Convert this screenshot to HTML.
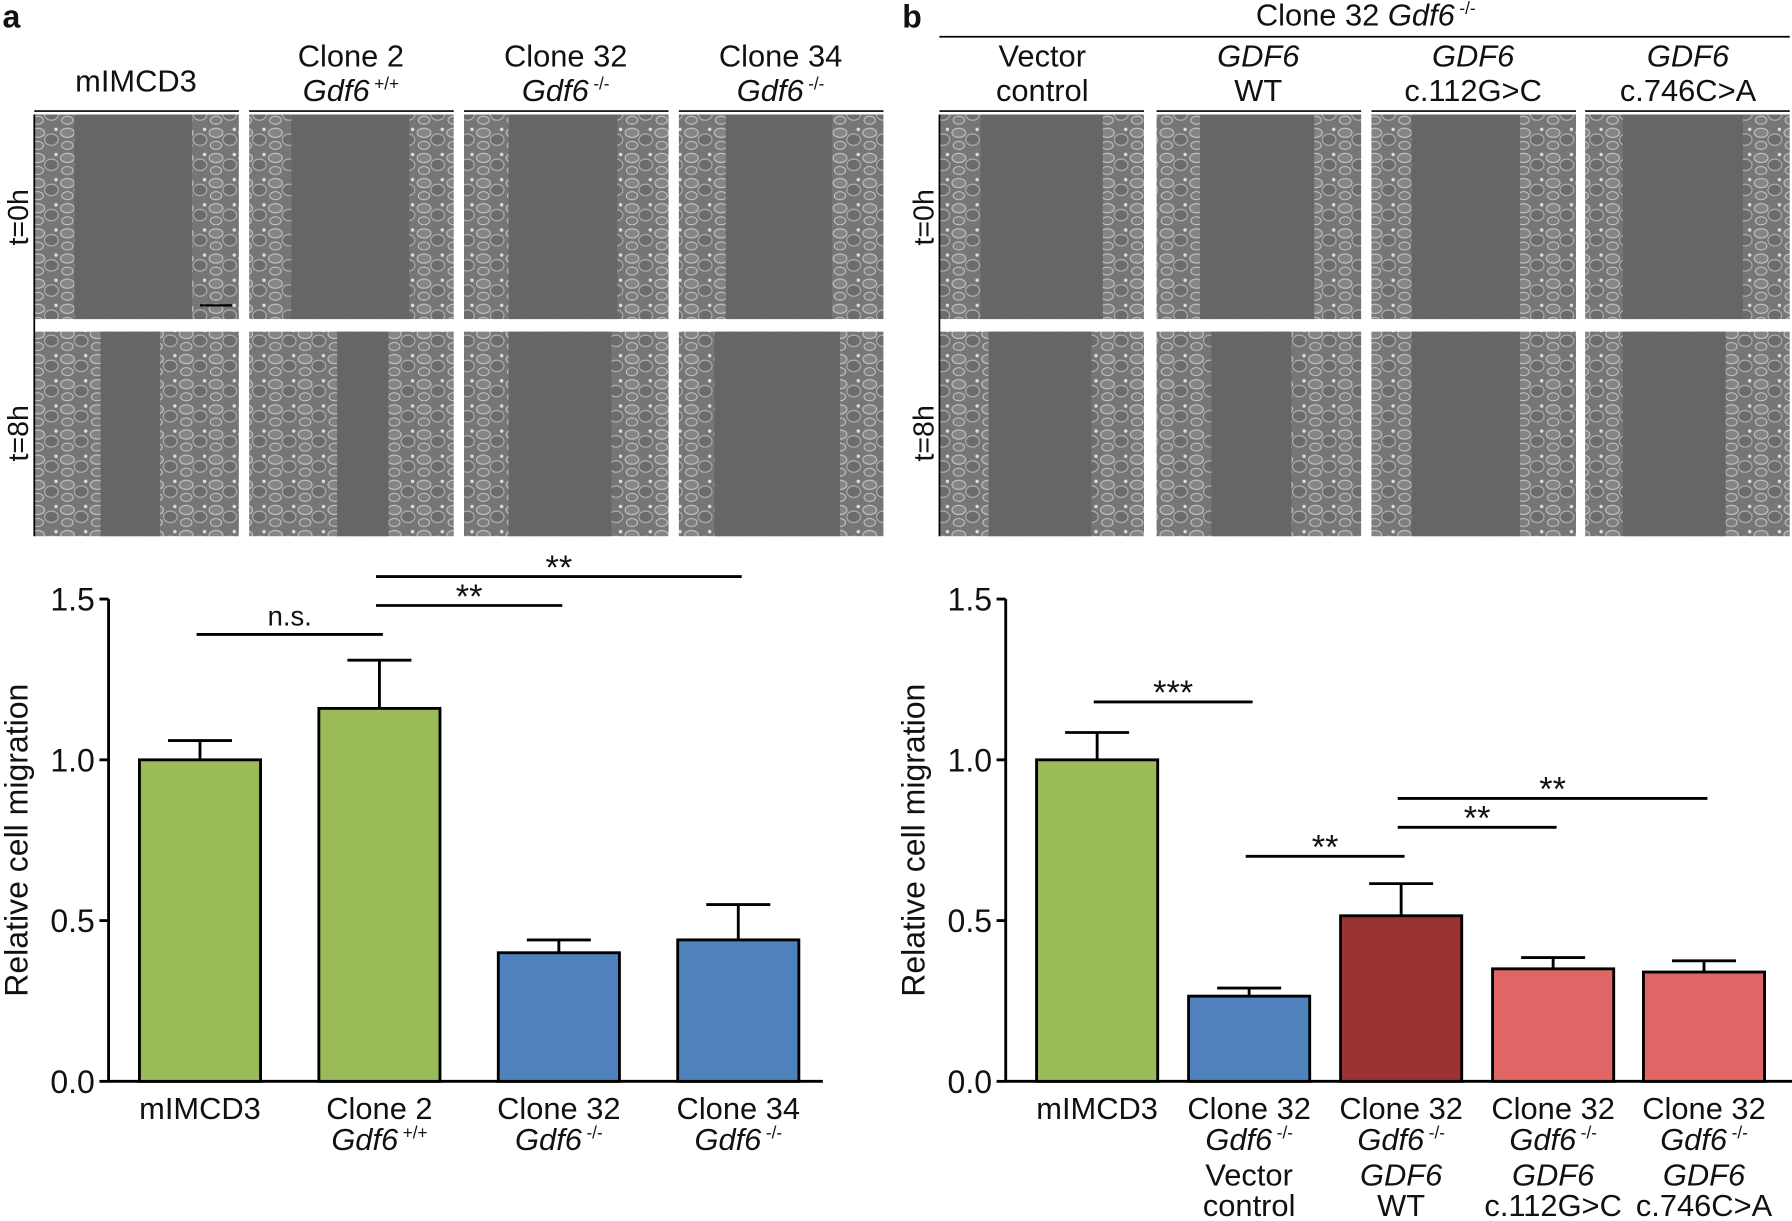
<!DOCTYPE html>
<html><head><meta charset="utf-8"><style>
html,body{margin:0;padding:0;background:#fff}
svg{display:block}
text{font-family:"Liberation Sans",sans-serif;fill:#111}
</style></head><body>
<svg id="fig" width="1792" height="1221" viewBox="0 0 1568 1068" xmlns="http://www.w3.org/2000/svg">
<defs>
<pattern id="cells" width="26" height="22" patternUnits="userSpaceOnUse">
<rect width="26" height="22" fill="#767676"/>
<ellipse cx="7" cy="6" rx="6" ry="4" fill="#858585" stroke="#c4c4c4" stroke-width="1"/>
<ellipse cx="19" cy="12" rx="6" ry="5" fill="#6c6c6c" stroke="#b0b0b0" stroke-width="1"/>
<ellipse cx="7" cy="17" rx="5" ry="3.5" fill="#7e7e7e" stroke="#cdcdcd" stroke-width="0.8"/>
<circle cx="23" cy="3" r="1.5" fill="#dedede"/>
</pattern>
</defs>
<g id="micro"></g>
<g id="chartA"></g>
<g id="chartB"></g>
</svg>
<script>
// ---- chart data ----
const catsA = ["mIMCD3", "Clone 2", "Clone 32", "Clone 34"];
const subA = ["", "Gdf6|+/+", "Gdf6|-/-", "Gdf6|-/-"];
const valsA = [1.0, 1.16, 0.40, 0.44];
const errsA = [1.06, 1.31, 0.44, 0.55];
const colorsA = ["#9bbb59", "#9bbb59", "#4f81bd", "#4f81bd"];
const catsB = ["mIMCD3", "Clone 32", "Clone 32", "Clone 32", "Clone 32"];
const valsB = [1.0, 0.265, 0.515, 0.35, 0.34];
const errsB = [1.085, 0.29, 0.615, 0.385, 0.375];
const colorsB = ["#9bbb59", "#4f81bd", "#9b3234", "#e06666", "#e06666"];
const ticks = [0.0, 0.5, 1.0, 1.5];
const tickLabels = ["0.0", "0.5", "1.0", "1.5"];
const sigA = [[0,1,"n.s.",1.39],[1,2,"**",1.48],[1,3,"**",1.57]];
const sigB = [[0,1,"***",1.18],[1,2,"**",0.70],[2,3,"**",0.79],[2,4,"**",0.88]];

const NS="http://www.w3.org/2000/svg";
function mk(tag, attrs, parent, txt){
  const e=document.createElementNS(NS,tag);
  for(const k in attrs) e.setAttribute(k,attrs[k]);
  if(txt!==undefined) e.textContent=txt;
  parent.appendChild(e); return e;
}
const y0=946, y15=524;
function yS(v){return y0-(v/1.5)*(y0-y15);}

function drawChart(g, axX, axEnd, barL, barW, vals, errs, colors, cats, sig, labelFn, titleX){
  let el=mk('line',{x1:axX,y1:y15,x2:axX,y2:y0,stroke:'#000','stroke-width':2.5},g);
  
  
  el=mk('line',{x1:axX,y1:y0,x2:axEnd,y2:y0,stroke:'#000','stroke-width':2.5},g);
  
  
  ticks.forEach((t,i)=>{
    const y=yS(t);
    let tk=mk('line',{x1:axX-8,y1:y,x2:axX,y2:y,stroke:'#000','stroke-width':2.5},g);
    
    
    let tl=mk('text',{x:axX-12,y:y+10,'text-anchor':'end','font-size':28},g,tickLabels[i]);
    
    
  });
  let tt=mk('text',{x:titleX,y:735,'text-anchor':'middle','font-size':28,transform:`rotate(-90 ${titleX} 735)`},g,'Relative cell migration');
  
  
  const centers=[];
  vals.forEach((v,i)=>{
    const x=barL[i], cx=x+barW/2; centers.push(cx);
    const ye=yS(errs[i]);
    let eb=mk('path',{d:`M${cx},${yS(v)} V${ye} M${cx-28},${ye} H${cx+28}`,stroke:'#000','stroke-width':2.5,fill:'none'},g);
    
    
    let b=mk('rect',{x:x,y:yS(v),width:barW,height:y0-yS(v),fill:colors[i],stroke:'#000','stroke-width':2.5},g);
    
    
    labelFn(g,cx,i);
  });
  sig.forEach(s=>{
    const y=yS(s[3]);
    let l=mk('line',{x1:centers[s[0]]-3,y1:y,x2:centers[s[1]]+3,y2:y,stroke:'#000','stroke-width':2.5},g);
    
    
    const ns=s[2]==='n.s.';
    let t=mk('text',{x:(centers[s[0]]+centers[s[1]])/2,y:ns?y-8:y+2,'text-anchor':'middle','font-size':ns?24:30},g,s[2]);
    
    
  });
}
function gdf(g,cx,y,sup){
  const t=mk('text',{x:cx,y:y,'text-anchor':'middle','font-size':27},g);
  
  
  mk('tspan',{'font-style':'italic'},t,'Gdf6');
  mk('tspan',{'font-size':15,dy:-10,dx:4},t,sup);
  return t;
}
const gA=document.getElementById('chartA');
drawChart(gA,95,720,[122,279,436,593],106,valsA,errsA,colorsA,catsA,sigA,(g,cx,i)=>{
  let t=mk('text',{x:cx,y:979,'text-anchor':'middle','font-size':27},g,catsA[i]);
  
  
  if(subA[i]) gdf(g,cx,1006,subA[i].split('|')[1]);
},24);
const gB=document.getElementById('chartB');
const extraB=[["",""],["Vector","control"],["GDF6","WT"],["GDF6","c.112G>C"],["GDF6","c.746C>A"]];
drawChart(gB,880,1568,[907,1040,1173,1306,1438],106,valsB,errsB,colorsB,catsB,sigB,(g,cx,i)=>{
  let t=mk('text',{x:cx,y:979,'text-anchor':'middle','font-size':27},g,catsB[i]);
  
  
  if(i>0){
    gdf(g,cx,1006,'-/-');
    let a=mk('text',{x:cx,y:1037,'text-anchor':'middle','font-size':27,'font-style':extraB[i][0]==='GDF6'?'italic':'normal'},g,extraB[i][0]);
    
    
    let b=mk('text',{x:cx,y:1064,'text-anchor':'middle','font-size':27},g,extraB[i][1]);
    
    
  }
},809);

// ---- micrographs ----
const gm=document.getElementById('micro');
const colsA=[30,218,406,594], colsB=[822,1012,1200,1387], cw=179;
const rows=[100,290], rh=179;
const gapsA=[[[65,168],[88,140]],[[255,358],[295,340]],[[445,540],[445,535]],[[635,728],[625,735]]];
const gapsB=[[[858,965],[865,955]],[[1050,1150],[1060,1130]],[[1235,1330],[1235,1330]],[[1420,1525],[1420,1510]]];
function panelImgs(cols,gaps){
  cols.forEach((x,c)=>{
    rows.forEach((y,r)=>{
      let im=mk('rect',{x:x,y:y,width:cw,height:rh,fill:'url(#cells)'},gm);
      
      
      const gp=gaps[c][r];
      mk('rect',{x:gp[0],y:y,width:gp[1]-gp[0],height:rh,fill:'#666666'},gm);
    });
    mk('line',{x1:x,y1:97,x2:x+cw,y2:97,stroke:'#000','stroke-width':1.5},gm);
  });
}
panelImgs(colsA,gapsA); panelImgs(colsB,gapsB);
mk('line',{x1:30,y1:100,x2:30,y2:469,stroke:'#000','stroke-width':1.5},gm);
mk('line',{x1:822,y1:100,x2:822,y2:469,stroke:'#000','stroke-width':1.5},gm);
mk('line',{x1:175,y1:267,x2:203,y2:267,stroke:'#000','stroke-width':2},gm);
function T(x,y,s,attrs,name){const t=mk('text',Object.assign({x:x,y:y,'text-anchor':'middle','font-size':27},attrs||{}),gm,s);return t;}
T(10,24,'a',{'font-weight':'bold','font-size':28},'panel-label-a');
T(798,24,'b',{'font-weight':'bold','font-size':28},'panel-label-b');
T(119,80,'mIMCD3',{},'column-header');
T(307,58,'Clone 2',{},'column-header');
T(495,58,'Clone 32',{},'column-header');
T(683,58,'Clone 34',{},'column-header');
function gh(x,y,sup){const t=mk('text',{x:x,y:y,'text-anchor':'middle','font-size':27},gm);mk('tspan',{'font-style':'italic'},t,'Gdf6');mk('tspan',{'font-size':15,dy:-10,dx:4},t,sup);}
gh(307,88,'+/+'); gh(495,88,'-/-'); gh(683,88,'-/-');
let hb=mk('text',{x:1195,y:22,'text-anchor':'middle','font-size':27},gm);


mk('tspan',{},hb,'Clone 32 ');mk('tspan',{'font-style':'italic'},hb,'Gdf6');mk('tspan',{'font-size':15,dy:-10,dx:4},hb,'-/-');
mk('line',{x1:822,y1:32,x2:1566,y2:32,stroke:'#000','stroke-width':1.5},gm);
T(912,58,'Vector',{},'column-header');T(912,88,'control',{},'column-header');
T(1101,58,'GDF6',{'font-style':'italic'},'column-header');T(1101,88,'WT',{},'column-header');
T(1289,58,'GDF6',{'font-style':'italic'},'column-header');T(1289,88,'c.112G>C',{},'column-header');
T(1477,58,'GDF6',{'font-style':'italic'},'column-header');T(1477,88,'c.746C>A',{},'column-header');
[[18,190,'t=0h'],[18,379,'t=8h'],[810,190,'t=0h'],[810,379,'t=8h']].forEach(a=>{
  T(a[0],a[1],a[2],{transform:`rotate(-90 ${a[0]} ${a[1]})`,'dominant-baseline':'middle','font-size':25},'row-label');
});
</script>
</body></html>
